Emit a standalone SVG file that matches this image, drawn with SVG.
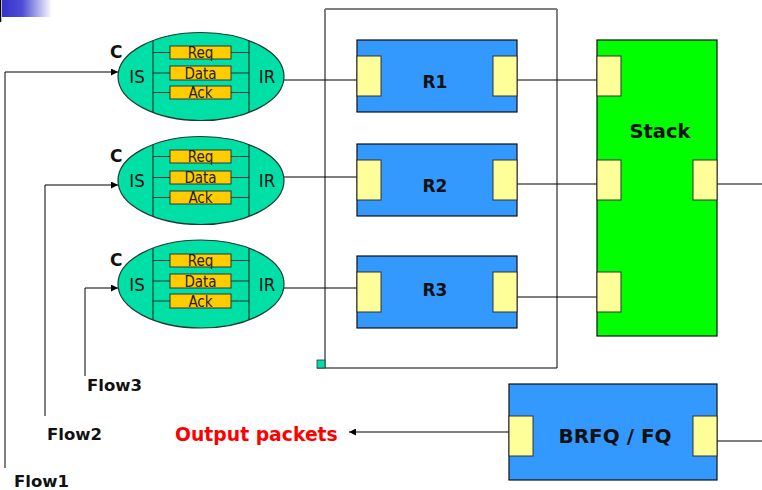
<svg xmlns="http://www.w3.org/2000/svg" width="762" height="490" viewBox="0 0 762 490">
<defs>
<linearGradient id="g" x1="0" y1="0" x2="1" y2="0">
<stop offset="0" stop-color="#3333cc"/>
<stop offset="0.4" stop-color="#4d4dd6"/>
<stop offset="1" stop-color="#ffffff"/>
</linearGradient>
<marker id="ah" viewBox="0 0 10 10" refX="10" refY="5" markerWidth="7" markerHeight="7" markerUnits="userSpaceOnUse" orient="auto">
<path d="M0,0 L10,5 L0,10 z" fill="#000"/>
</marker>
</defs>
<style>
text{font-family:"DejaVu Sans Condensed","DejaVu Sans",sans-serif;}
.ell{fill:#00e0a6;stroke:#1f3a30;stroke-width:1.2;}
.div{stroke:#1f3a30;stroke-width:1.2;}
.msg{fill:#ffcc00;stroke:#333;stroke-width:1;}
.mt{font-size:15px;fill:#222;text-anchor:middle;}
.side{font-size:18.5px;fill:#111;text-anchor:middle;}
.c{font-family:"DejaVu Sans",sans-serif;font-size:17px;font-weight:bold;fill:#111;}
.rb{fill:#3399ff;stroke:#111;stroke-width:1.2;}
.port{fill:#ffff99;stroke:#333;stroke-width:1;}
.bl{font-family:"DejaVu Sans",sans-serif;font-weight:bold;fill:#111;text-anchor:middle;}
.flow{font-family:"DejaVu Sans",sans-serif;font-size:16.5px;font-weight:bold;fill:#111;}
.out{font-family:"DejaVu Sans",sans-serif;font-size:18.8px;font-weight:bold;fill:#ff0000;}
.k{stroke:#000;stroke-width:1.2;fill:none;}
.gy{stroke:#808080;stroke-width:2;fill:none;}
</style>
<rect x="2" y="0" width="50" height="17" fill="url(#g)"/>
<line x1="0.5" y1="0" x2="0.5" y2="22" stroke="#000" stroke-width="1.5"/>

<g id="frame">
<line x1="325" y1="9" x2="557" y2="9" stroke="#000" stroke-width="1.2"/>
<line x1="325" y1="9" x2="325" y2="368" stroke="#808080" stroke-width="2"/>
<line x1="557" y1="9" x2="557" y2="368" stroke="#808080" stroke-width="2"/>
<line x1="317" y1="368" x2="557" y2="368" stroke="#000" stroke-width="1.2"/>
<rect x="317" y="360" width="8" height="8" fill="#00e0a6" stroke="#333" stroke-width="0.8"/>
</g>

<g id="connectors">
<polyline class="gy" points="5,468 5,72"/>
<line class="k" x1="5" y1="72" x2="118" y2="72" marker-end="url(#ah)"/>
<polyline class="gy" points="45,416 45,185"/>
<line class="k" x1="45" y1="185" x2="118" y2="185" marker-end="url(#ah)"/>
<polyline class="gy" points="85,376 85,288"/>
<line class="k" x1="85" y1="288" x2="118" y2="288" marker-end="url(#ah)"/>
<line class="k" x1="284" y1="80" x2="357" y2="80"/>
<line class="k" x1="284" y1="177" x2="357" y2="177"/>
<line class="k" x1="284" y1="288" x2="357" y2="288"/>
<line class="k" x1="517" y1="80" x2="597" y2="80"/>
<line class="k" x1="517" y1="184" x2="597" y2="184"/>
<line class="k" x1="517" y1="297" x2="597" y2="297"/>
<line class="k" x1="717" y1="184" x2="762" y2="184"/>
<line class="k" x1="717" y1="441" x2="762" y2="441"/>
<line class="k" x1="509" y1="432" x2="349" y2="432" marker-end="url(#ah)"/>
</g>

<g id="c1">
<ellipse class="ell" cx="201" cy="76.5" rx="83" ry="44"/>
<line class="div" x1="153" y1="40.6" x2="153" y2="112.4"/>
<line class="div" x1="249" y1="40.6" x2="249" y2="112.4"/>
<line class="div" x1="153" y1="52.5" x2="249" y2="52.5"/>
<line class="div" x1="153" y1="73" x2="249" y2="73"/>
<line class="div" x1="153" y1="92.5" x2="249" y2="92.5"/>
<rect class="msg" x="170" y="46" width="61" height="13"/>
<rect class="msg" x="170" y="66" width="61" height="14"/>
<rect class="msg" x="170" y="86" width="61" height="13"/>
<text class="mt" x="200.5" y="58">Req</text>
<text class="mt" x="200.5" y="78.5">Data</text>
<text class="mt" x="200.5" y="98">Ack</text>
<text class="side" x="137" y="83">IS</text>
<text class="side" x="267" y="83">IR</text>
<text class="c" x="110" y="58">C</text>
</g>

<g id="c2">
<ellipse class="ell" cx="201" cy="180.5" rx="83" ry="44"/>
<line class="div" x1="153" y1="144.6" x2="153" y2="216.4"/>
<line class="div" x1="249" y1="144.6" x2="249" y2="216.4"/>
<line class="div" x1="153" y1="156.5" x2="249" y2="156.5"/>
<line class="div" x1="153" y1="177.5" x2="249" y2="177.5"/>
<line class="div" x1="153" y1="197.5" x2="249" y2="197.5"/>
<rect class="msg" x="170" y="150" width="61" height="13"/>
<rect class="msg" x="170" y="171" width="61" height="13"/>
<rect class="msg" x="170" y="191" width="61" height="13"/>
<text class="mt" x="200.5" y="162">Req</text>
<text class="mt" x="200.5" y="183">Data</text>
<text class="mt" x="200.5" y="203">Ack</text>
<text class="side" x="137" y="187">IS</text>
<text class="side" x="267" y="187">IR</text>
<text class="c" x="110" y="162">C</text>
</g>

<g id="c3">
<ellipse class="ell" cx="201" cy="284" rx="83" ry="44"/>
<line class="div" x1="153" y1="248.1" x2="153" y2="319.9"/>
<line class="div" x1="249" y1="248.1" x2="249" y2="319.9"/>
<line class="div" x1="153" y1="260.5" x2="249" y2="260.5"/>
<line class="div" x1="153" y1="281" x2="249" y2="281"/>
<line class="div" x1="153" y1="301" x2="249" y2="301"/>
<rect class="msg" x="170" y="254" width="61" height="13"/>
<rect class="msg" x="170" y="274" width="61" height="14"/>
<rect class="msg" x="170" y="294" width="61" height="14"/>
<text class="mt" x="200.5" y="266">Req</text>
<text class="mt" x="200.5" y="286.5">Data</text>
<text class="mt" x="200.5" y="306.5">Ack</text>
<text class="side" x="137" y="291">IS</text>
<text class="side" x="267" y="291">IR</text>
<text class="c" x="110" y="266">C</text>
</g>

<g id="r1">
<rect class="rb" x="357" y="40" width="160" height="72"/>
<rect class="port" x="357" y="56" width="24" height="40"/>
<rect class="port" x="493" y="56" width="24" height="40"/>
<text class="bl" x="435" y="88" font-size="17">R1</text>
</g>
<g id="r2">
<rect class="rb" x="357" y="144" width="160" height="72"/>
<rect class="port" x="357" y="160" width="24" height="40"/>
<rect class="port" x="493" y="160" width="24" height="40"/>
<text class="bl" x="435" y="192" font-size="17">R2</text>
</g>
<g id="r3">
<rect class="rb" x="357" y="256" width="160" height="72"/>
<rect class="port" x="357" y="272" width="24" height="40"/>
<rect class="port" x="493" y="272" width="24" height="40"/>
<text class="bl" x="435" y="296" font-size="17">R3</text>
</g>

<g id="stack">
<rect x="597" y="40" width="120" height="296" fill="#00ff00" stroke="#111" stroke-width="1.2"/>
<rect class="port" x="597" y="56" width="24" height="40"/>
<rect class="port" x="597" y="160" width="24" height="40"/>
<rect class="port" x="693" y="160" width="24" height="40"/>
<rect class="port" x="597" y="272" width="24" height="40"/>
<text class="bl" x="660" y="138" font-size="19.5">Stack</text>
</g>

<g id="brfq">
<rect class="rb" x="509" y="384" width="208" height="96"/>
<rect class="port" x="509" y="416" width="24" height="40"/>
<rect class="port" x="693" y="416" width="24" height="40"/>
<text class="bl" x="615" y="443" font-size="20">BRFQ / FQ</text>
</g>

<text class="flow" x="87" y="391">Flow3</text>
<text class="flow" x="47" y="440">Flow2</text>
<text class="flow" x="14" y="487">Flow1</text>
<text class="out" x="175" y="441">Output packets</text>
</svg>
